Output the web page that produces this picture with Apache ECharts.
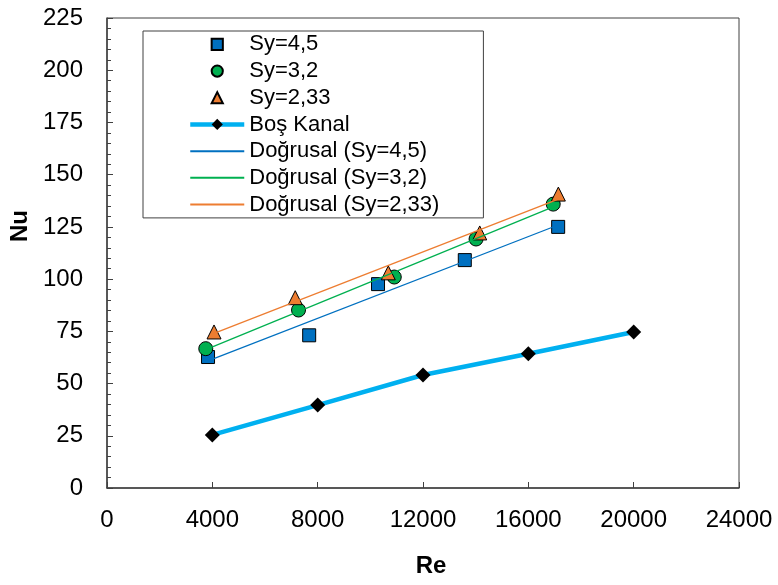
<!DOCTYPE html>
<html>
<head>
<meta charset="utf-8">
<script src="https://cdn.jsdelivr.net/npm/echarts@6/dist/echarts.min.js"></script>
<style>html,body{margin:0;padding:0;background:#fff}#c{width:778px;height:585px}</style>
</head>
<body>
<div id="c"></div>
<script>
// Data
const re45 = [3837, 7678, 10292, 13587, 17133];
const nu45 = [62.7, 73.1, 97.6, 109.1, 125.0];
const re32 = [3750, 7273, 10909, 14015, 16945];
const nu32 = [66.7, 85.2, 101.0, 119.2, 135.9];
const re233 = [4064, 7148, 10682, 14155, 17140];
const nu233 = [74.7, 91.1, 103.0, 122.1, 140.7];
const reBos = [4000, 8000, 12000, 16000, 20000];
const nuBos = [25.4, 39.7, 54.1, 64.3, 74.7];
// Trend line endpoints (Doğrusal)
const trRe45 = [3837, 17133];
const trNu45 = [60.9, 125.9];
const trRe32 = [3750, 16945];
const trNu32 = [66.2, 134.6];
const trRe233 = [4064, 17140];
const trNu233 = [74.0, 138.3];

const names = ['Sy=4,5', 'Sy=3,2', 'Sy=2,33', 'Boş Kanal', 'Doğrusal (Sy=4,5)', 'Doğrusal (Sy=3,2)', 'Doğrusal (Sy=2,33)'];

const pair = (xs, ys) => xs.map((x, i) => [x, ys[i]]);
const FONT = "'Liberation Sans', Arial, sans-serif";

const markerSeries = (name, xs, ys, symbol, color, size, z) => ({
  name, type: 'line', data: pair(xs, ys), symbol, symbolSize: size, showSymbol: true,
  lineStyle: { width: 0, opacity: 0 },
  itemStyle: { color, borderColor: '#000', borderWidth: 1 },
  z, animation: false
});
const trendSeries = (name, xs, ys, color) => ({
  name, type: 'line', data: pair(xs, ys), symbol: 'none',
  lineStyle: { width: 1.3, color }, itemStyle: { color }, z: 6, animation: false
});

const chart = echarts.init(document.getElementById('c'), null, { renderer: 'canvas' });
chart.setOption({
  backgroundColor: '#fff',
  animation: false,
  grid: { left: 107, right: 39, top: 18, bottom: 97, show: true, borderColor: '#404040', borderWidth: 1, backgroundColor: 'transparent' },
  xAxis: {
    type: 'value', min: 0, max: 24000, interval: 4000,
    name: 'Re', nameLocation: 'middle', nameGap: 66,
    nameTextStyle: { fontFamily: FONT, fontSize: 24, fontWeight: 'bold', color: '#000', padding: [0, 0, 0, 16] },
    axisLine: { show: true, lineStyle: { color: '#404040', width: 1.5 } },
    axisTick: { show: true, inside: true, length: 6, lineStyle: { color: '#404040' } },
    axisLabel: { fontFamily: FONT, fontSize: 24, color: '#000', margin: 20, formatter: v => String(v) },
    splitLine: { show: false }
  },
  yAxis: {
    type: 'value', min: 0, max: 225, interval: 25,
    name: 'Nu', nameLocation: 'middle', nameGap: 72,
    nameTextStyle: { fontFamily: FONT, fontSize: 24, fontWeight: 'bold', color: '#000', padding: [0, 0, 0, 54] },
    axisLine: { show: true, lineStyle: { color: '#404040', width: 1.5 } },
    axisTick: { show: true, inside: true, length: 6, lineStyle: { color: '#404040' } },
    minorTick: { show: true, splitNumber: 5, length: 4, lineStyle: { color: '#404040' } },
    axisLabel: { fontFamily: FONT, fontSize: 24, color: '#000', margin: 24 },
    splitLine: { show: false }
  },
  legend: {
    orient: 'vertical', left: 143, top: 31,
    padding: [0, 44, 0, 45],
    itemGap: 0, itemWidth: 54, itemHeight: 14,
    backgroundColor: '#fff', borderColor: '#404040', borderWidth: 1,
    selectedMode: false,
    textStyle: { fontFamily: FONT, fontSize: 22, color: '#000', lineHeight: 26.7, width: 189 },
    data: [
      { name: names[0] }, { name: names[1] }, { name: names[2] },
      { name: names[3], lineStyle: { width: 4.5 } },
      { name: names[4], itemStyle: { opacity: 0 } },
      { name: names[5], itemStyle: { opacity: 0 } },
      { name: names[6], itemStyle: { opacity: 0 } }
    ]
  },
  series: [
    markerSeries(names[0], re45, nu45, 'rect', '#0070C0', 13, 3),
    markerSeries(names[1], re32, nu32, 'circle', '#00B050', 14, 4),
    markerSeries(names[2], re233, nu233, 'triangle', '#ED7D31', 14, 5),
    {
      name: names[3], type: 'line', data: pair(reBos, nuBos), symbol: 'diamond', symbolSize: 15,
      lineStyle: { width: 4.5, color: '#00B0F0' }, itemStyle: { color: '#000' }, z: 3, animation: false
    },
    trendSeries(names[4], trRe45, trNu45, '#0070C0'),
    trendSeries(names[5], trRe32, trNu32, '#00B050'),
    trendSeries(names[6], trRe233, trNu233, '#ED7D31')
  ]
});
</script>
</body>
</html>
